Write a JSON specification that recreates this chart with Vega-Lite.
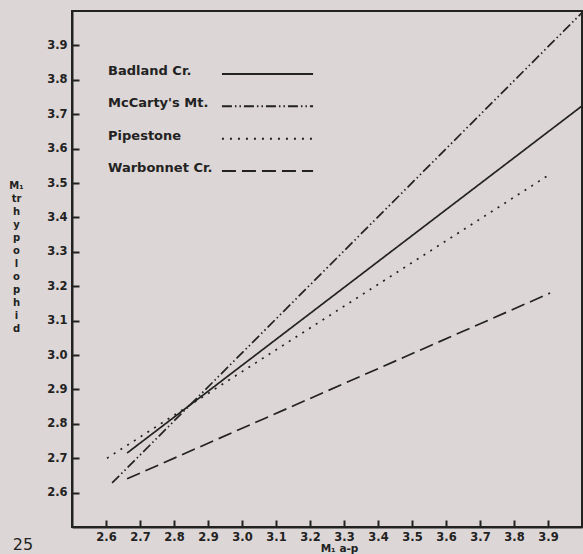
{
  "$schema": "https://vega.github.io/schema/vega-lite/v6.json",
  "width": 510,
  "height": 516,
  "autosize": {"type": "none"},
  "padding": {"left": 72, "top": 11, "right": 1, "bottom": 27},
  "background": "#ddd6d6",
  "config": {
    "font": "DejaVu Sans",
    "view": {"stroke": "#222222", "strokeWidth": 2},
    "axis": {
      "grid": false,
      "domainColor": "#222222",
      "domainWidth": 2,
      "tickColor": "#222222",
      "tickWidth": 2,
      "tickSize": -7,
      "labelFont": "DejaVu Sans",
      "labelFontSize": 11.5,
      "labelFontWeight": "bold",
      "labelColor": "#222222",
      "labelPadding": 11,
      "labelOverlap": false,
      "labelFlush": false,
      "titleFont": "DejaVu Sans",
      "titleFontWeight": "bold",
      "titleColor": "#222222"
    }
  },
  "resolve": {"scale": {"x": "independent", "y": "independent"}},
  "layer": [
    {
      "data": {
        "values": [
          {"series": "Badland Cr.", "x": 2.662, "y": 2.715},
          {"series": "Badland Cr.", "x": 4.0, "y": 3.724},
          {"series": "McCarty's Mt.", "x": 2.618, "y": 2.628},
          {"series": "McCarty's Mt.", "x": 4.0, "y": 3.995},
          {"series": "Pipestone", "x": 2.603, "y": 2.70},
          {"series": "Pipestone", "x": 3.897, "y": 3.52},
          {"series": "Warbonnet Cr.", "x": 2.662, "y": 2.640},
          {"series": "Warbonnet Cr.", "x": 3.906, "y": 3.180}
        ]
      },
      "mark": {"type": "line", "color": "#222222", "strokeWidth": 1.7},
      "encoding": {
        "x": {
          "field": "x",
          "type": "quantitative",
          "scale": {"domain": [2.5, 4.0], "nice": false, "zero": false},
          "axis": {
            "values": [2.6, 2.7, 2.8, 2.9, 3.0, 3.1, 3.2, 3.3, 3.4, 3.5, 3.6, 3.7, 3.8, 3.9],
            "format": ".1f",
            "labelOverlap": false,
            "title": "M₁ a-p",
            "titleFontSize": 10.5,
            "titlePadding": 1,
            "titleX": 267
          }
        },
        "y": {
          "field": "y",
          "type": "quantitative",
          "scale": {"domain": [2.5, 4.0], "nice": false, "zero": false},
          "axis": {
            "values": [2.6, 2.7, 2.8, 2.9, 3.0, 3.1, 3.2, 3.3, 3.4, 3.5, 3.6, 3.7, 3.8, 3.9],
            "format": ".1f",
            "labelOverlap": false,
            "labelPadding": 12,
            "title": ["M₁", "tr", "h", "y", "p", "o", "l", "o", "p", "h", "i", "d"],
            "titleAngle": 0,
            "titleAlign": "center",
            "titleBaseline": "top",
            "titleX": -56,
            "titleY": 169,
            "titleFontSize": 10,
            "titleLineHeight": 13
          }
        },
        "strokeDash": {
          "field": "series",
          "type": "nominal",
          "scale": {
            "domain": ["Badland Cr.", "McCarty's Mt.", "Pipestone", "Warbonnet Cr."],
            "range": [[1, 0], [10, 3, 1.5, 3, 1.5, 3], [2, 6], [14, 6]]
          },
          "legend": null
        }
      }
    },
    {
      "data": {"values": [{"series": "Badland Cr."}, {"series": "McCarty's Mt."}, {"series": "Pipestone"}, {"series": "Warbonnet Cr."}]},
      "mark": {"type": "text", "fontSize": 13, "fontWeight": "bold", "align": "left", "baseline": "alphabetic", "color": "#222222"},
      "encoding": {
        "text": {"field": "series", "type": "nominal"},
        "x": {"datum": 2.606, "type": "quantitative", "scale": {"domain": [2.5, 4.0], "nice": false, "zero": false}, "axis": null},
        "y": {
          "field": "series",
          "type": "nominal",
          "scale": {"type": "point", "domain": ["Badland Cr.", "McCarty's Mt.", "Pipestone", "Warbonnet Cr."], "range": [64, 161], "padding": 0},
          "axis": null
        }
      }
    },
    {
      "data": {"values": [{"series": "Badland Cr."}, {"series": "McCarty's Mt."}, {"series": "Pipestone"}, {"series": "Warbonnet Cr."}]},
      "mark": {"type": "rule", "color": "#222222", "strokeWidth": 2},
      "encoding": {
        "x": {"datum": 2.941, "type": "quantitative", "scale": {"domain": [2.5, 4.0], "nice": false, "zero": false}, "axis": null},
        "x2": {"datum": 3.209},
        "y": {
          "field": "series",
          "type": "nominal",
          "scale": {"type": "point", "domain": ["Badland Cr.", "McCarty's Mt.", "Pipestone", "Warbonnet Cr."], "range": [63, 160], "padding": 0},
          "axis": null
        },
        "strokeDash": {
          "field": "series",
          "type": "nominal",
          "scale": {
            "domain": ["Badland Cr.", "McCarty's Mt.", "Pipestone", "Warbonnet Cr."],
            "range": [[1, 0], [10, 3, 1.5, 3, 1.5, 3], [2, 6], [14, 6]]
          },
          "legend": null
        }
      }
    },
    {
      "data": {"values": [{"label": "25"}]},
      "mark": {"type": "text", "fontSize": 16, "align": "left", "baseline": "alphabetic", "color": "#222222", "clip": false},
      "encoding": {
        "text": {"field": "label", "type": "nominal"},
        "x": {"datum": 2.326, "type": "quantitative", "scale": {"domain": [2.5, 4.0], "nice": false, "zero": false}, "axis": null},
        "y": {"datum": 2.433, "type": "quantitative", "scale": {"domain": [2.5, 4.0], "nice": false, "zero": false}, "axis": null}
      }
    }
  ]
}
